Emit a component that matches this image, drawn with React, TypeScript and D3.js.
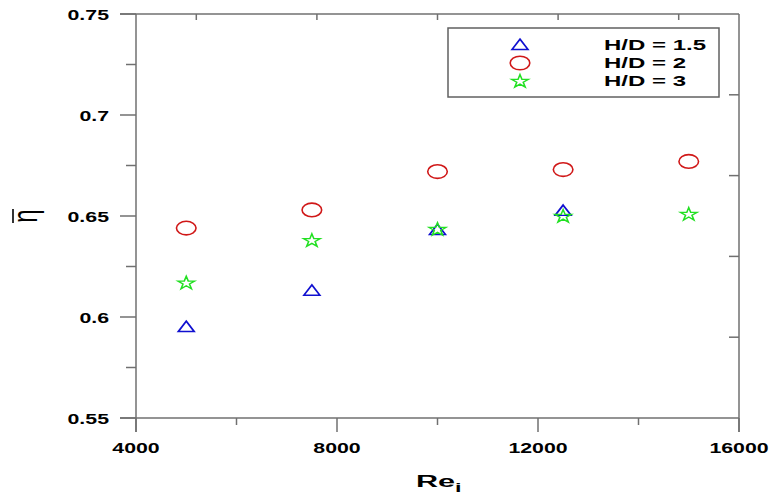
import React from "react";
import * as d3 from "d3";

const xTicks = [4000, 8000, 12000, 16000];
const xMinorTicks = [6000, 10000, 14000];
const yTicks = [0.55, 0.6, 0.65, 0.7, 0.75];
const yMinorTicks = [0.575, 0.625, 0.675, 0.725];

const reHD15 = [5000, 7500, 10000, 12500];
const etaHD15 = [0.595, 0.613, 0.643, 0.6525];
const reHD2 = [5000, 7500, 10000, 12500, 15000];
const etaHD2 = [0.644, 0.653, 0.672, 0.673, 0.677];
const reHD3 = [5000, 7500, 10000, 12500, 15000];
const etaHD3 = [0.617, 0.638, 0.6435, 0.65, 0.651];

const legendLabels = ["H/D = 1.5", "H/D = 2", "H/D = 3"];

const W = 772;
const H = 500;
const left = 136;
const right = 739;
const top = 14;
const bottom = 418;
const axisColor = "#707070";
const font = "'Liberation Sans', Arial, sans-serif";

const BLUE = "#1010d0";
const RED = "#d01818";
const GREEN = "#22e022";

const triPath = d3.symbol(d3.symbolTriangle, 110)() as string;
const starPath = d3.symbol(d3.symbolStar, 88)() as string;

function Marker({ kind, x, y }: { kind: number; x: number; y: number }) {
  if (kind === 0)
    return (
      <path d={triPath} transform={`translate(${x},${y + 1}) scale(1,0.75)`} fill="none" stroke={BLUE} strokeWidth={1.9} />
    );
  if (kind === 1)
    return <ellipse cx={x} cy={y} rx={9.8} ry={6.8} fill="none" stroke={RED} strokeWidth={1.6} />;
  return (
    <path d={starPath} transform={`translate(${x},${y + 0.5}) scale(1,0.78)`} fill="none" stroke={GREEN} strokeWidth={1.6} />
  );
}

export default function App() {
  const x = d3.scaleLinear().domain([4000, 16000]).range([left, right]);
  const y = d3.scaleLinear().domain([0.55, 0.75]).range([bottom, top]);
  const series = [
    { xs: reHD15, ys: etaHD15 },
    { xs: reHD2, ys: etaHD2 },
    { xs: reHD3, ys: etaHD3 },
  ];
  const rightTicks = d3.range(1, 5).map((i) => top + ((bottom - top) * i) / 5);
  const topTicks = [0.1, 0.3, 0.5, 0.7, 0.9].map((f) => left + (right - left) * f);
  const fmtY = (v: number) => String(+v.toFixed(2));

  const lg = { x: 448, y: 28, w: 271, h: 69 };
  const rowY = [45, 63, 81];

  return (
    <svg width={W} height={H} style={{ position: "absolute", left: 0, top: 0, background: "#fff" }}>
      <rect x={0} y={0} width={W} height={H} fill="#fff" />
      {/* frame */}
      <g stroke={axisColor} strokeWidth={1.5} fill="none">
        <line x1={left} y1={top} x2={left} y2={bottom + 14} />
        <line x1={right} y1={top} x2={right} y2={bottom + 14} />
        <line x1={left - 16} y1={bottom} x2={right} y2={bottom} />
        <line x1={left - 16} y1={top} x2={right} y2={top} />
        {xTicks.map((t) => (
          <line key={"xt" + t} x1={x(t)} y1={bottom} x2={x(t)} y2={bottom + 14} />
        ))}
        {xMinorTicks.map((t) => (
          <line key={"xm" + t} x1={x(t)} y1={bottom} x2={x(t)} y2={bottom + 7} />
        ))}
        {yTicks.map((t) => (
          <line key={"yt" + t} x1={left - 16} y1={y(t)} x2={left} y2={y(t)} />
        ))}
        {yMinorTicks.map((t) => (
          <line key={"ym" + t} x1={left - 10} y1={y(t)} x2={left} y2={y(t)} />
        ))}
        {rightTicks.map((t, i) => (
          <line key={"rt" + i} x1={right - 10} y1={t} x2={right} y2={t} />
        ))}
        {topTicks.map((t, i) => (
          <line key={"tt" + i} x1={t} y1={top} x2={t} y2={top + 6} />
        ))}
      </g>
      {/* tick labels */}
      <g fontFamily={font} fontWeight="bold" fontSize={14.5} fill="#000">
        {yTicks.map((t) => (
          <g key={"yl" + t} transform={`translate(109,${y(t) + 1}) scale(1.47,1)`}>
            <text dy="0.36em" textAnchor="end">
              {fmtY(t)}
            </text>
          </g>
        ))}
        {xTicks.map((t) => (
          <g key={"xl" + t} transform={`translate(${x(t)},453) scale(1.47,1)`}>
            <text textAnchor="middle">{t}</text>
          </g>
        ))}
      </g>
      {/* axis titles */}
      <g transform="translate(416,487) scale(1.8,1)">
        <text fontFamily={font} fontWeight="bold" fontSize={17}>
          Re
          <tspan fontSize={13} dy={5}>i</tspan>
        </text>
      </g>
      <g transform="translate(37,216) scale(1.5,1) rotate(-90)">
        <text textAnchor="middle" fontFamily={font} fontSize={24}>
          η
        </text>
      </g>
      <line x1={13} y1={209} x2={13} y2={223} stroke="#000" strokeWidth={1.6} />
      {/* data */}
      {series.map((s, k) =>
        s.xs.map((v, i) => <Marker key={k + "-" + i} kind={k} x={x(v)} y={y(s.ys[i])} />)
      )}
      {/* legend */}
      <rect x={lg.x} y={lg.y} width={lg.w} height={lg.h} fill="#fff" stroke="#606060" strokeWidth={1.5} />
      {legendLabels.map((l, i) => (
        <g key={l}>
          <Marker kind={i} x={520} y={rowY[i]} />
          <g transform={`translate(604,${rowY[i] + 5}) scale(1.6,1)`}>
            <text fontFamily={font} fontWeight="bold" fontSize={15}>
              {l}
            </text>
          </g>
        </g>
      ))}
    </svg>
  );
}
